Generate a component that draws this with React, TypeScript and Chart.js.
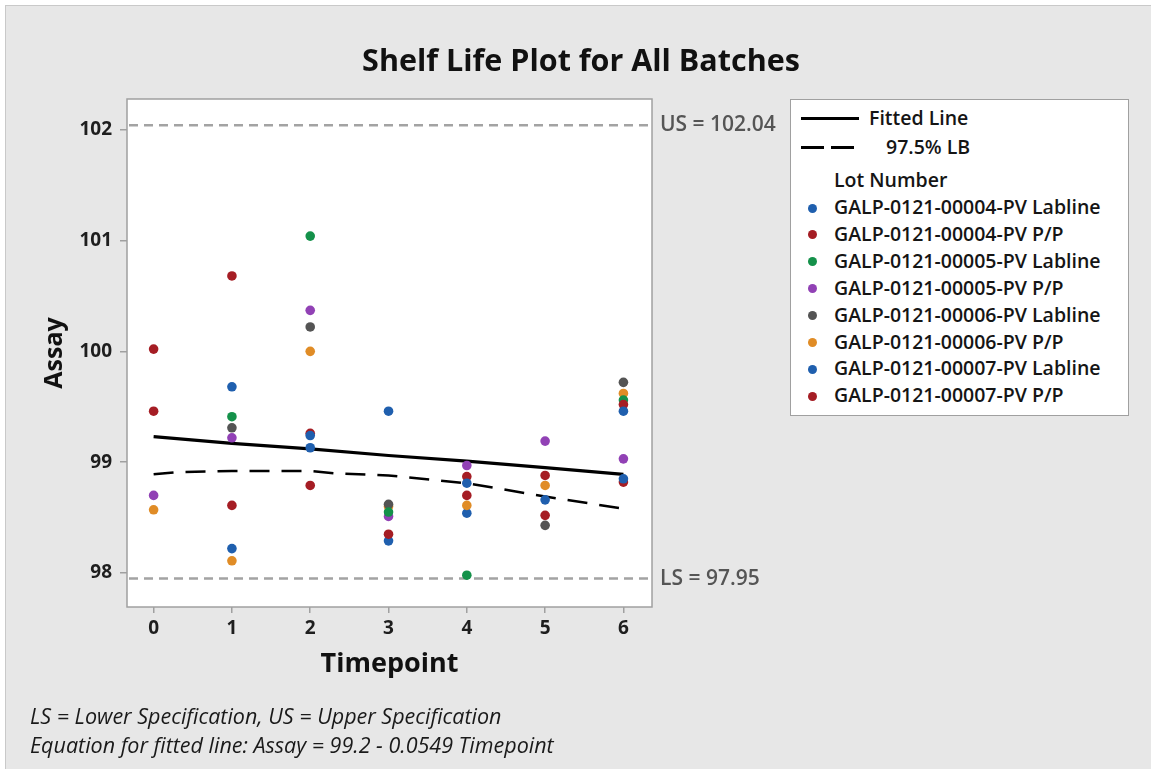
import React, { useEffect, useRef } from "react";
import { Chart, registerables } from "chart.js";

Chart.register(...registerables);

// ---------- data ----------
const timepoints = [0, 1, 2, 3, 4, 5, 6];

const lotNames = [
  "GALP-0121-00004-PV Labline",
  "GALP-0121-00004-PV P/P",
  "GALP-0121-00005-PV Labline",
  "GALP-0121-00005-PV P/P",
  "GALP-0121-00006-PV Labline",
  "GALP-0121-00006-PV P/P",
  "GALP-0121-00007-PV Labline",
  "GALP-0121-00007-PV P/P",
];

const lotColors = [
  "#1f5fae",
  "#a51d24",
  "#14914a",
  "#9141b5",
  "#545454",
  "#e08c26",
  "#1f5fae",
  "#a51d24",
];

const lot04Lab = [null, 99.68, 99.24, 99.46, 98.81, 98.66, 99.46];
const lot04PP = [100.02, 100.68, 99.26, 98.35, 98.87, 98.88, 99.52];
const lot05Lab = [null, 99.41, 101.04, 98.55, 97.98, null, 99.56];
const lot05PP = [98.7, 99.22, 100.37, 98.51, 98.97, 99.19, 99.03];
const lot06Lab = [null, 99.31, 100.22, 98.62, null, 98.43, 99.72];
const lot06PP = [98.57, 98.11, 100.0, 98.6, 98.61, 98.79, 99.62];
const lot07Lab = [null, 98.22, 99.13, 98.29, 98.54, null, 98.85];
const lot07PP = [99.46, 98.61, 98.79, null, 98.7, 98.52, 98.82];

const lotValues = [lot04Lab, lot04PP, lot05Lab, lot05PP, lot06Lab, lot06PP, lot07Lab, lot07PP];

const fittedValues = [99.23, 99.17, 99.12, 99.06, 99.01, 98.95, 98.89];

const lbTimepoints = [0, 0.3, 1, 2, 2.3, 3, 4, 5, 6];
const lbValues = [98.89, 98.91, 98.92, 98.92, 98.9, 98.88, 98.81, 98.69, 98.58];

const xTickValues = [0, 1, 2, 3, 4, 5, 6];
const yTickValues = [98, 99, 100, 101, 102];

const upperSpec = 102.04;
const lowerSpec = 97.95;

const FONT = "'Open Sans', 'Noto Sans', sans-serif";

const framePlugin = {
  id: "frame",
  beforeDraw(chart: any) {
    const { ctx, chartArea } = chart;
    ctx.save();
    ctx.fillStyle = "#ffffff";
    ctx.fillRect(chartArea.left, chartArea.top, chartArea.right - chartArea.left, chartArea.bottom - chartArea.top);
    ctx.restore();
  },
  beforeDatasetsDraw(chart: any) {
    const { ctx, chartArea, scales } = chart;
    ctx.save();
    ctx.strokeStyle = "#a3a3a3";
    ctx.lineWidth = 2.5;
    ctx.setLineDash([9, 6]);
    [upperSpec, lowerSpec].forEach((v) => {
      const y = scales.y.getPixelForValue(v);
      ctx.beginPath();
      ctx.moveTo(chartArea.left + 2, y);
      ctx.lineTo(chartArea.right, y);
      ctx.stroke();
    });
    ctx.restore();
  },
  afterDraw(chart: any) {
    const { ctx, chartArea, scales } = chart;
    ctx.save();
    ctx.strokeStyle = "#a0a0a0";
    ctx.lineWidth = 1.5;
    ctx.strokeRect(chartArea.left, chartArea.top, chartArea.right - chartArea.left, chartArea.bottom - chartArea.top);
    ctx.fillStyle = "#555555";
    ctx.font = `600 21px ${FONT}`;
    ctx.textBaseline = "middle";
    ctx.textAlign = "left";
    ctx.fillText(`US = ${upperSpec.toFixed(2)}`, chartArea.right + 8, scales.y.getPixelForValue(upperSpec));
    ctx.fillText(`LS = ${lowerSpec.toFixed(2)}`, chartArea.right + 8, scales.y.getPixelForValue(lowerSpec));
    ctx.restore();
  },
};

export default function App() {
  const canvasRef = useRef<HTMLCanvasElement | null>(null);

  useEffect(() => {
    document.body.style.margin = "0";
    document.body.style.overflow = "hidden";
    const canvas = canvasRef.current;
    if (!canvas) return;

    const lotDatasets = lotValues.map((vals, i) => ({
      type: "scatter" as const,
      label: lotNames[i],
      data: timepoints
        .map((t, j) => ({ x: t, y: vals[j] }))
        .filter((p) => p.y !== null),
      backgroundColor: lotColors[i],
      borderColor: lotColors[i],
      borderWidth: 0,
      pointRadius: 4.8,
      pointHoverRadius: 4.8,
    }));

    const chart = new Chart(canvas, {
      type: "scatter",
      data: {
        datasets: [
          ...lotDatasets,
          {
            type: "line",
            label: "Fitted Line",
            data: timepoints.map((t, j) => ({ x: t, y: fittedValues[j] })),
            borderColor: "#000000",
            borderWidth: 3.2,
            pointRadius: 0,
            tension: 0,
            showLine: true,
            fill: false,
          } as any,
          {
            type: "line",
            label: "97.5% LB",
            data: lbTimepoints.map((t, j) => ({ x: t, y: lbValues[j] })),
            borderColor: "#000000",
            borderWidth: 2.5,
            borderDash: [20, 12],
            pointRadius: 0,
            tension: 0,
            showLine: true,
            fill: false,
          } as any,
        ],
      },
      options: {
        responsive: false,
        animation: false,
        events: [],
        layout: { padding: { top: 99, right: 499, bottom: 0, left: 0 } },
        plugins: {
          legend: { display: false },
          title: { display: false },
          tooltip: { enabled: false },
        },
        scales: {
          x: {
            type: "linear",
            min: -0.34,
            max: 6.365,
            afterFit(scale: any) {
              scale.height = 162;
            },
            afterBuildTicks(scale: any) {
              scale.ticks = xTickValues.map((v) => ({ value: v }));
            },
            grid: {
              display: true,
              drawOnChartArea: false,
              drawTicks: true,
              tickLength: 6,
              color: "#a0a0a0",
              lineWidth: 1.5,
            },
            border: { display: false },
            ticks: {
              color: "#1e1e1e",
              padding: 4,
              font: { family: FONT, size: 19, weight: 700 },
              maxRotation: 0,
            },
            title: {
              display: true,
              text: "Timepoint",
              color: "#111111",
              font: { family: FONT, size: 27, weight: 700 },
              padding: { top: 0, bottom: 88 },
            },
          },
          y: {
            type: "linear",
            min: 97.693,
            max: 102.277,
            afterFit(scale: any) {
              scale.width = 127;
            },
            afterBuildTicks(scale: any) {
              scale.ticks = yTickValues.map((v) => ({ value: v }));
            },
            grid: {
              display: true,
              drawOnChartArea: false,
              drawTicks: true,
              tickLength: 7,
              color: "#a0a0a0",
              lineWidth: 1.5,
            },
            border: { display: false },
            ticks: {
              color: "#1e1e1e",
              padding: 8,
              font: { family: FONT, size: 19, weight: 700 },
            },
            title: {
              display: true,
              text: "Assay",
              color: "#111111",
              font: { family: FONT, size: 25, weight: 700 },
              padding: { top: 40, bottom: 0 },
            },
          },
        },
      },
      plugins: [framePlugin],
    });

    return () => {
      chart.destroy();
    };
  }, []);

  const legendRowTop = (i: number) => 108 + i * 26.9;

  return (
    <div style={{ position: "relative", width: 1151, height: 769, background: "#ffffff", overflow: "hidden" }}>
      <div
        style={{
          position: "absolute",
          left: 5,
          top: 5,
          width: 1146,
          height: 764,
          background: "#e7e7e7",
          borderTop: "1px solid #c9c9c9",
          borderLeft: "1px solid #c9c9c9",
          boxSizing: "border-box",
        }}
      />
      <canvas ref={canvasRef} width={1151} height={769} style={{ position: "absolute", left: 0, top: 0 }} />
      <div
        style={{
          position: "absolute",
          left: 581,
          top: 41,
          transform: "translateX(-50%)",
          whiteSpace: "nowrap",
          fontFamily: FONT,
          fontWeight: 700,
          fontSize: 30.5,
          lineHeight: "36px",
          color: "#111111",
        }}
      >
        Shelf Life Plot for All Batches
      </div>

      <div
        style={{
          position: "absolute",
          left: 790,
          top: 99,
          width: 339,
          height: 317,
          background: "#ffffff",
          border: "1.5px solid #a0a0a0",
          boxSizing: "border-box",
          fontFamily: FONT,
          fontWeight: 600,
          fontSize: 19.5,
          color: "#151515",
        }}
      >
        <div style={{ position: "absolute", left: 10, top: 17, width: 58, height: 3, background: "#000" }} />
        <div style={{ position: "absolute", left: 78, top: 6, lineHeight: "24px", whiteSpace: "nowrap" }}>Fitted Line</div>
        <div style={{ position: "absolute", left: 10, top: 46, width: 23, height: 2.5, background: "#000" }} />
        <div style={{ position: "absolute", left: 40, top: 46, width: 23, height: 2.5, background: "#000" }} />
        <div style={{ position: "absolute", left: 95, top: 35, lineHeight: "24px", whiteSpace: "nowrap" }}>97.5% LB</div>
        <div style={{ position: "absolute", left: 43, top: 68, lineHeight: "24px", whiteSpace: "nowrap" }}>Lot Number</div>
        {lotNames.map((name, i) => (
          <React.Fragment key={name}>
            <div
              style={{
                position: "absolute",
                left: 17,
                top: legendRowTop(i) - 4.5,
                width: 9,
                height: 9,
                borderRadius: "50%",
                background: lotColors[i],
              }}
            />
            <div
              style={{
                position: "absolute",
                left: 43,
                top: legendRowTop(i) - 13,
                lineHeight: "24px",
                whiteSpace: "nowrap",
              }}
            >
              {name}
            </div>
          </React.Fragment>
        ))}
      </div>

      <div
        style={{
          position: "absolute",
          left: 30,
          top: 701,
          fontFamily: FONT,
          fontStyle: "italic",
          fontSize: 21.5,
          lineHeight: "29px",
          color: "#1a1a1a",
          whiteSpace: "nowrap",
        }}
      >
        <div>LS = Lower Specification, US = Upper Specification</div>
        <div>Equation for fitted line: Assay = 99.2 - 0.0549 Timepoint</div>
      </div>
    </div>
  );
}
